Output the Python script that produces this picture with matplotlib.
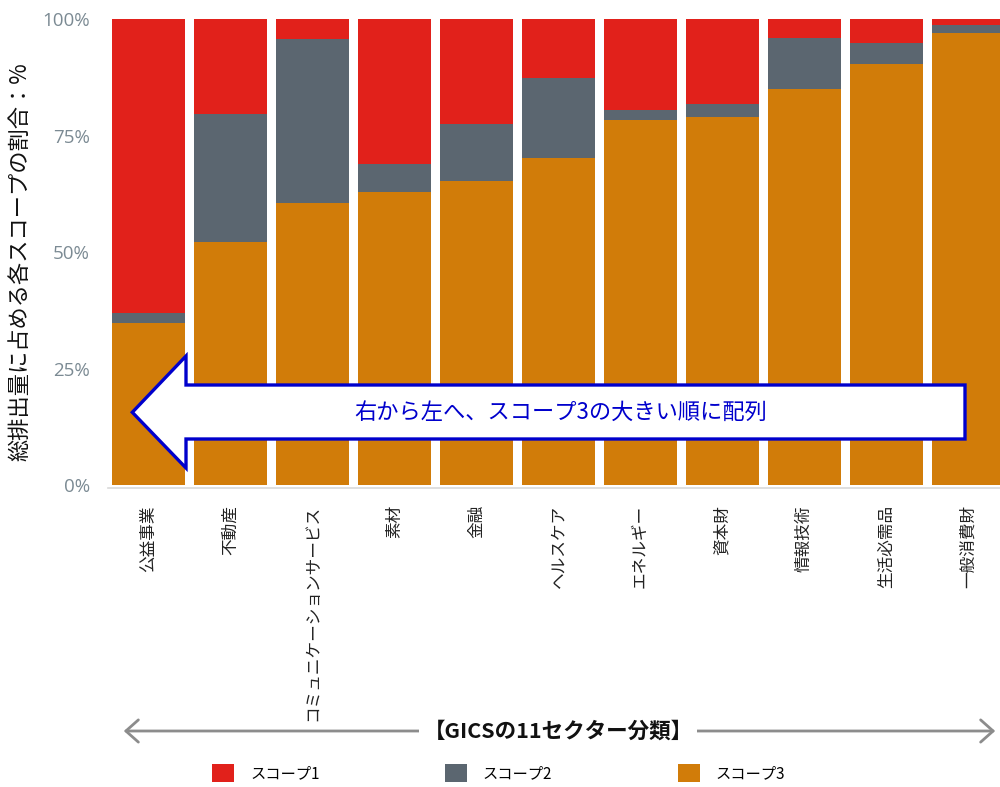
import matplotlib
matplotlib.use("Agg")
import matplotlib.pyplot as plt
from matplotlib.patches import Patch, Polygon, FancyArrowPatch
import numpy as np

plt.rcParams["font.family"] = ["Noto Sans CJK JP", "DejaVu Sans"]

# data (percent of total emissions), sorted by scope 3 ascending
sectors = ["公益事業", "不動産", "コミュニケーションサービス", "素材", "金融",
           "ヘルスケア", "エネルギー", "資本財", "情報技術", "生活必需品", "一般消費財"]
scope3 = [34.7, 52.2, 60.6, 62.9, 65.3, 70.2, 78.4, 79.1, 85.0, 90.3, 97.1]
scope2 = [2.2, 27.4, 35.1, 6.0, 12.2, 17.2, 2.2, 2.7, 10.9, 4.7, 1.7]
scope1 = [100 - a - b for a, b in zip(scope3, scope2)]

yticks = [0, 25, 50, 75, 100]
ytick_labels = ["0%", "25%", "50%", "75%", "100%"]
legend_labels = ["スコープ1", "スコープ2", "スコープ3"]

RED = "#e1211b"
GREY = "#5b6670"
ORANGE = "#d17c09"
BLUE = "#0000cc"

W, H = 1000, 787
fig = plt.figure(figsize=(10, 7.87), dpi=100)
ax = fig.add_axes([108 / W, 1 - 485 / H, 892 / W, (485 - 19.3) / H])

x = np.arange(len(sectors))
s3 = np.array(scope3)
s2 = np.array(scope2)
s1 = np.array(scope1)
ax.bar(x, s3, width=0.9, color=ORANGE)
ax.bar(x, s2, width=0.9, bottom=s3, color=GREY)
ax.bar(x, s1, width=0.9, bottom=s3 + s2, color=RED)

ax.set_xlim(-0.494, 10.384)
ax.set_ylim(0, 100)
for side in ["top", "right", "left"]:
    ax.spines[side].set_visible(False)
ax.spines["bottom"].set_color("#d9d9d9")
ax.spines["bottom"].set_linewidth(1.2)
ax.spines["bottom"].set_position(("outward", 2.5))

ax.set_yticks(yticks)
ax.set_yticklabels(ytick_labels, family="Open Sans", fontsize=13.5, color="#7b8a93")
ax.set_xticks(x)
ax.set_xticklabels(sectors, rotation=90, fontsize=12, color="#222222", va="top")
ax.tick_params(axis="y", length=0, pad=13)
ax.tick_params(axis="x", length=0, pad=12)

fig.text(20 / W, 1 - 262 / H, "総排出量に占める各スコープの割合：%", rotation=90,
         ha="center", va="center", fontsize=16, color="#111111")

# big left arrow annotation (pixel coords from top-left)
pts = [(132.3, 412.3), (186, 356), (186, 385), (965, 385),
       (965, 439), (186, 439), (186, 468)]
poly = Polygon([(px / W, 1 - py / H) for px, py in pts], closed=True,
               facecolor="white", edgecolor=BLUE, linewidth=2.4,
               joinstyle="miter", transform=fig.transFigure, zorder=5)
fig.add_artist(poly)
fig.text(561 / W, 1 - 412 / H, "右から左へ、スコープ3の大きい順に配列",
         ha="center", va="center", fontsize=16, color=BLUE, zorder=6)

# bottom double arrow with caption
fig.text(558 / W, 1 - 731 / H, "【GICSの11セクター分類】", ha="center",
         va="center", fontsize=15.5, fontweight="bold", color="#111111",
         zorder=4, bbox=dict(facecolor="white", edgecolor="none", pad=3))
fig.add_artist(FancyArrowPatch(
    (121 / W, 1 - 731 / H), (998 / W, 1 - 731 / H),
    transform=fig.transFigure,
    arrowstyle="<->,head_length=0.45,head_width=0.4", mutation_scale=20,
    color="#8c8c8c", linewidth=2, zorder=3))

handles = [Patch(facecolor=RED), Patch(facecolor=GREY), Patch(facecolor=ORANGE)]
fig.legend(handles, legend_labels, loc="center left",
           bbox_to_anchor=(212 / W, 1 - 773 / H), ncol=3, frameon=False,
           fontsize=11, handlelength=1.44, handleheight=1.44,
           handletextpad=1.05, columnspacing=8.2, borderpad=0, borderaxespad=0)

fig.savefig("out.png", dpi=100)
